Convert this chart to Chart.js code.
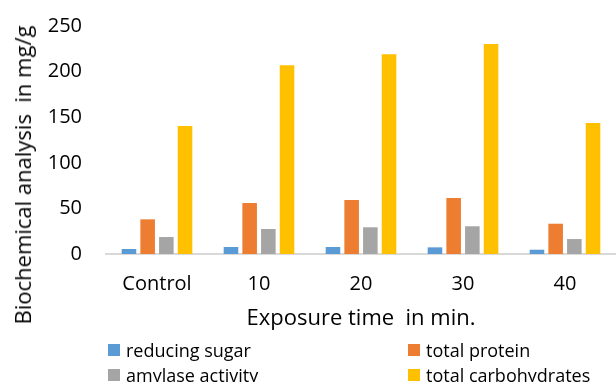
<!DOCTYPE html>
<html>
<head>
<meta charset="utf-8">
<script src="https://cdn.jsdelivr.net/npm/chart.js@4.4.1/dist/chart.umd.min.js"></script>
<style>
  html, body { margin: 0; padding: 0; background: #fff; }
  #wrap { position: relative; width: 616px; height: 382px; overflow: hidden; font-family: "Open Sans", sans-serif; }
  #ytitle { position: absolute; left: 22px; top: 175px; transform: translate(-50%, -50%) rotate(-90deg); white-space: pre; font-size: 22px; color: #000; }
  .leg { position: absolute; display: flex; align-items: center; font-size: 18px; color: #000; white-space: nowrap; }
  .leg i { display: inline-block; width: 12px; height: 12px; margin-right: 6px; }
</style>
</head>
<body>
<div id="wrap">
  <canvas id="c" width="616" height="382"></canvas>
  <div id="ytitle"></div>
  <div id="legend"></div>
</div>
<script>
const categories = ['Control', '10', '20', '30', '40'];
const reducingSugar = [5.5, 7.7, 7.7, 7.3, 4.7];
const totalProtein = [38.0, 55.9, 59.2, 61.4, 33.2];
const amylaseActivity = [18.6, 27.4, 29.3, 30.4, 16.4];
const totalCarbohydrates = [140.4, 206.9, 219.0, 230.3, 143.6];
const seriesNames = ['reducing sugar', 'total protein', 'amylase activity', 'total carbohydrates'];
const seriesColors = ['#5B9BD5', '#ED7D31', '#A5A5A5', '#FFC000'];
const yTicks = [0, 50, 100, 150, 200, 250];
const xTitle = 'Exposure time  in min.';
const yTitle = 'Biochemical analysis  in mg/g';

const seriesData = [reducingSugar, totalProtein, amylaseActivity, totalCarbohydrates];

document.getElementById('ytitle').textContent = yTitle;

// HTML legend (2 columns x 2 rows)
const legendPos = [[108, 350], [408, 350], [108, 375], [408, 375]];
const legEl = document.getElementById('legend');
seriesNames.forEach((n, i) => {
  const d = document.createElement('div');
  d.className = 'leg';
  d.style.left = legendPos[i][0] + 'px';
  d.style.top = (legendPos[i][1] - 13) + 'px';
  d.style.height = '26px';
  const b = document.createElement('i');
  b.style.background = seriesColors[i];
  d.appendChild(b);
  d.appendChild(document.createTextNode(n));
  legEl.appendChild(d);
});

Chart.defaults.font.family = '"Open Sans", sans-serif';
Chart.defaults.color = '#000';

new Chart(document.getElementById('c'), {
  type: 'bar',
  data: {
    labels: categories,
    datasets: seriesNames.map((n, i) => ({
      label: n,
      data: seriesData[i],
      backgroundColor: seriesColors[i],
      borderWidth: 0,
      categoryPercentage: 0.733,
      barPercentage: 0.78
    }))
  },
  options: {
    responsive: false,
    animation: false,
    layout: { padding: { top: 26, right: 0, bottom: 50, left: 0 } },
    plugins: { legend: { display: false }, tooltip: { enabled: false } },
    scales: {
      x: {
        grid: { display: false, drawTicks: false },
        border: { display: true, color: '#D9D9D9', width: 2 },
        ticks: { font: { size: 20 }, padding: 18, color: '#000' },
        title: { display: true, text: xTitle, font: { size: 22 }, color: '#000', padding: { top: 0, bottom: 0 } },
        afterFit: (s) => { s.height = 78; }
      },
      y: {
        min: 0, max: 250,
        grid: { display: false, drawTicks: true, tickLength: 24 },
        border: { display: false },
        afterBuildTicks: (s) => { s.ticks = yTicks.map(v => ({ value: v })); },
        ticks: { font: { size: 20 }, padding: 0, color: '#000' },
        afterFit: (s) => { s.width = 106; }
      }
    }
  }
});
</script>
</body>
</html>
